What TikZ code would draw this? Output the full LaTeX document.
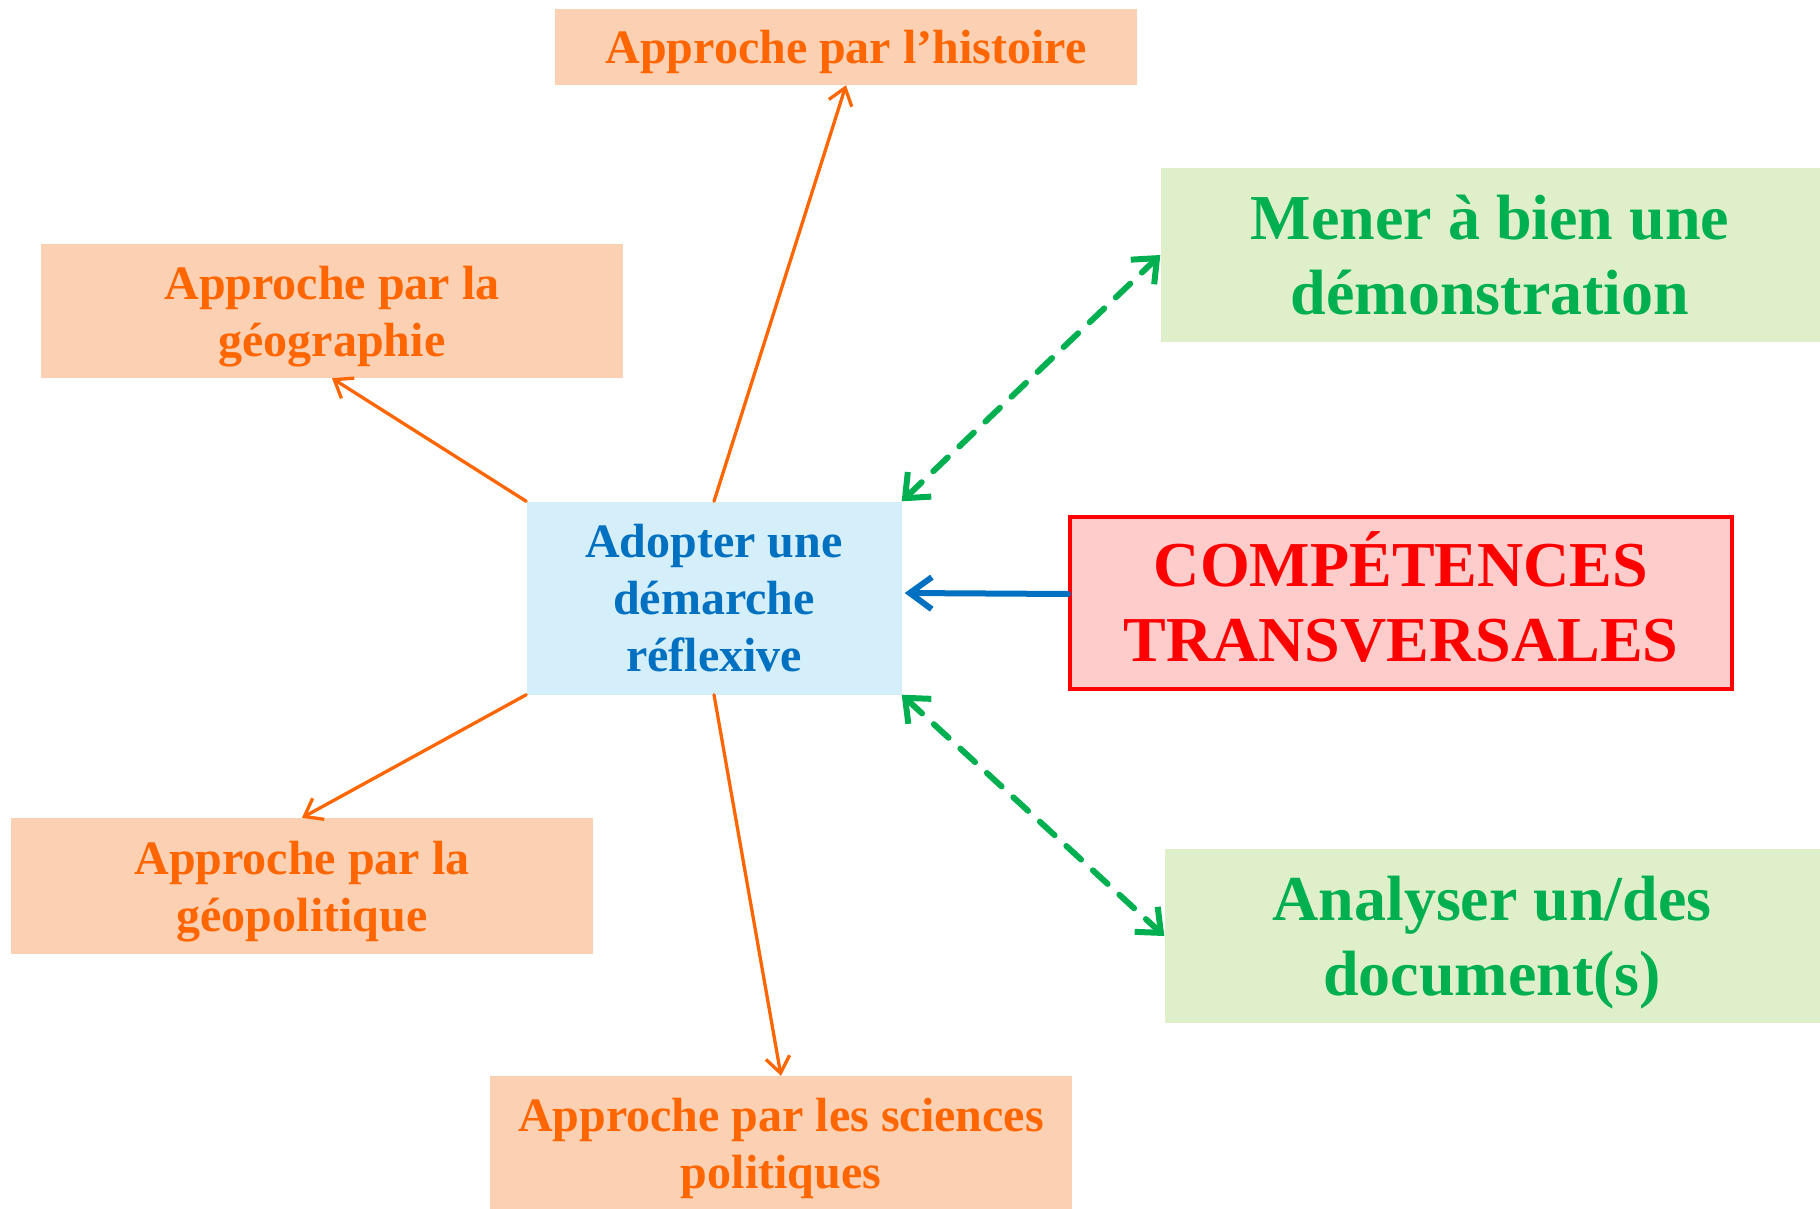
\documentclass[tikz,border=0pt]{standalone}
\usepackage{fontspec}
\setmainfont{Liberation Serif}
\usepackage{tikz}
\usetikzlibrary{arrows.meta}

\definecolor{peach}{HTML}{FCD0B3}
\definecolor{orangetxt}{HTML}{FF6600}
\definecolor{lightblue}{HTML}{D5EFFA}
\definecolor{bluetxt}{HTML}{0070C0}
\definecolor{lightgreen}{HTML}{DEEFCA}
\definecolor{greentxt}{HTML}{00B050}
\definecolor{lightred}{HTML}{FFCCCC}

\begin{document}
\begin{tikzpicture}[x=1pt, y=-1pt, line cap=round]
\tikzstyle{approche}=[fill=peach, text=orangetxt, align=center, minimum width=582pt, text depth=0pt, font=\fontsize{48}{57}\selectfont\bfseries]
\tikzstyle{demarche}=[fill=lightblue, text=bluetxt, align=center, minimum width=375pt, minimum height=193pt, font=\fontsize{48}{57}\selectfont\bfseries]
\tikzstyle{competence}=[fill=lightgreen, text=greentxt, align=center, minimum height=174pt, font=\fontsize{64}{75}\selectfont\bfseries]
\tikzstyle{transversal}=[fill=lightred, draw=red, line width=4pt, text=red, align=center, minimum width=662pt, minimum height=172pt, text depth=12pt, font=\fontsize{64}{75}\selectfont\bfseries]
\tikzstyle{orangearrow}=[draw=orangetxt, line width=3.3pt, -{Straight Barb[length=16pt,width=24pt]}]
\tikzstyle{greenarrow}=[draw=greentxt, line width=6pt, dash pattern=on 20pt off 16pt, {Straight Barb[length=20pt,width=34pt]}-{Straight Barb[length=20pt,width=34pt]}]
\tikzstyle{bluearrow}=[draw=bluetxt, line width=6pt, -{Straight Barb[length=22pt,width=32pt]}]

\useasboundingbox (0,0) rectangle (1820,1209);

% centre
\node[demarche] (adopt) at (714,598) {Adopter une\\d\'emarche\\r\'eflexive};

% approches
\node[approche, minimum height=76pt] (hist) at (846,47) {Approche par l’histoire};
\node[approche, minimum height=134pt] (geo) at (332,311) {Approche par la\\g\'eographie};
\node[approche, minimum height=136pt] (geopol) at (302,886) {Approche par la\\g\'eopolitique};
\node[approche, minimum height=134pt] (sci) at (781,1143) {Approche par les sciences\\politiques};

% competences
\node[competence, minimum width=659pt] (mener) at (1490,255) {Mener \`a bien une\\d\'emonstration};
\node[transversal] (comp) at (1401,603) {COMP\'ETENCES\\TRANSVERSALES};
\node[competence, minimum width=655pt, text depth=0pt] (analyse) at (1492,936) {Analyser un/des\\document(s)};

\path (adopt.north) edge[orangearrow] (hist.south);
\path (adopt.north west) edge[orangearrow] (geo.south);
\path (adopt.south west) edge[orangearrow] (geopol.north);
\path (adopt.south) edge[orangearrow] (sci.north);

\path (adopt.north east) edge[greenarrow] (mener.west);
\path (adopt.south east) edge[greenarrow] (analyse.west);

\path ([yshift=9pt]comp.west) edge[bluearrow] ([xshift=3pt,yshift=5pt]adopt.east);
\end{tikzpicture}
\end{document}
